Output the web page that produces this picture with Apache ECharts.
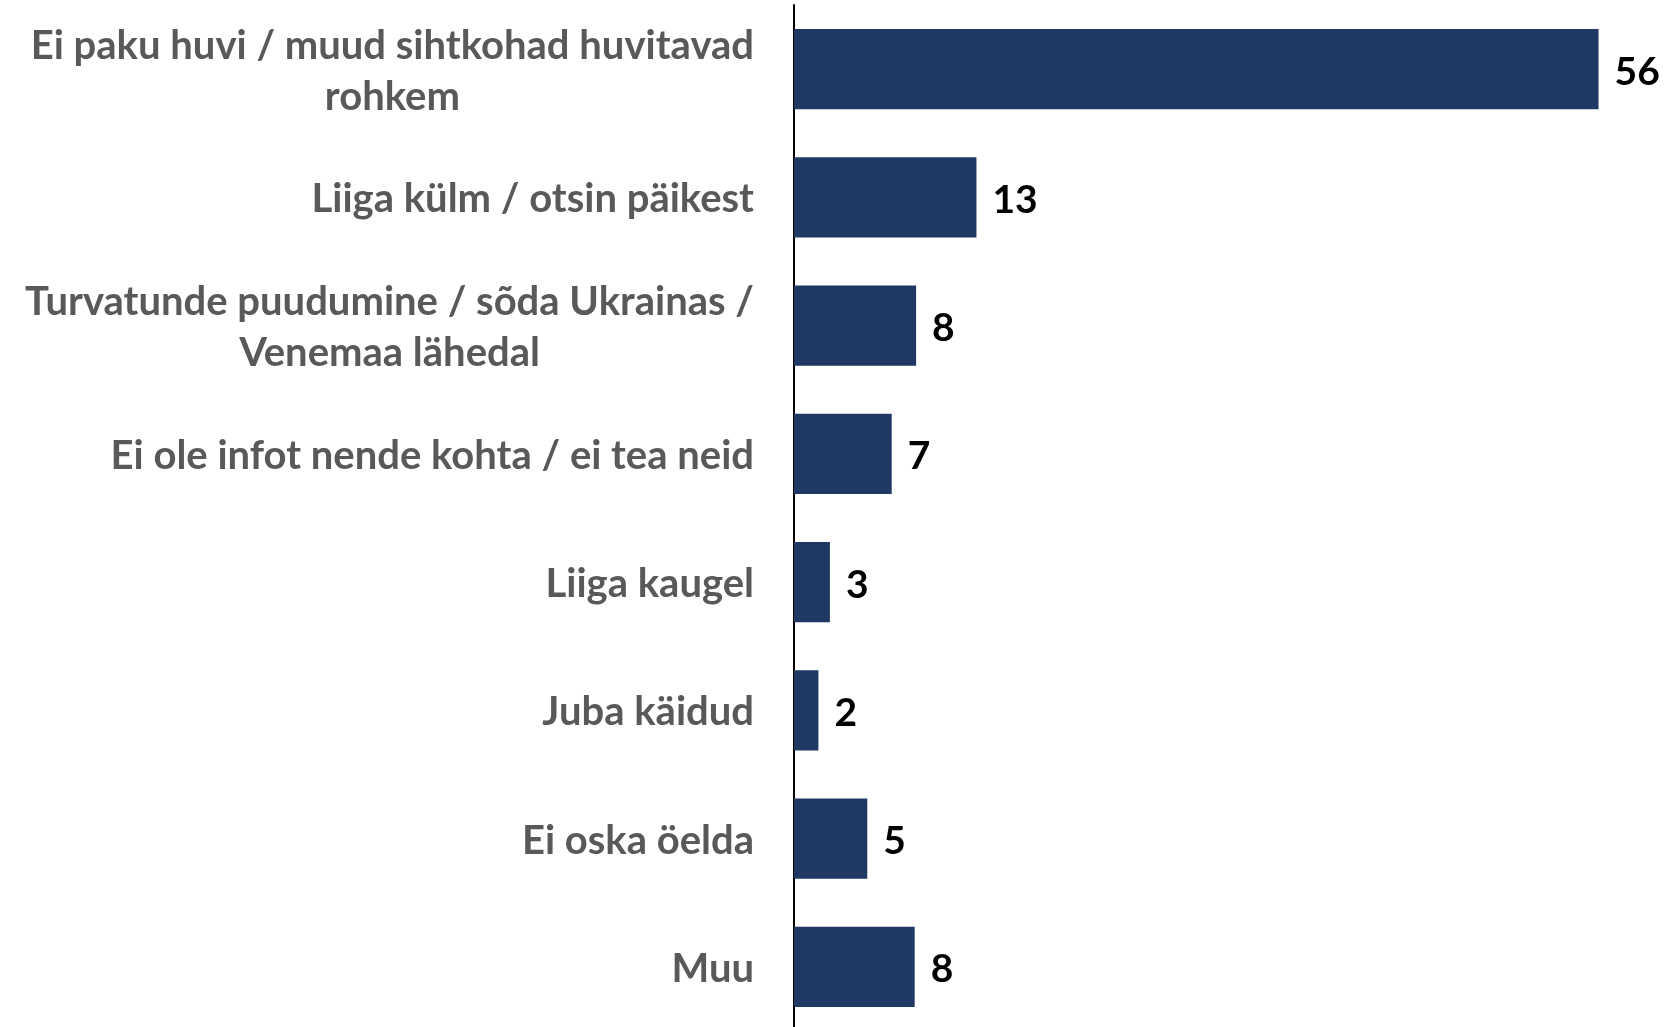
<!DOCTYPE html>
<html>
<head>
<meta charset="utf-8">
<script src="https://cdn.jsdelivr.net/npm/echarts@6/dist/echarts.min.js"></script>
<style>
html,body{margin:0;padding:0;background:#fff;overflow:hidden;}
#chart{width:1676px;height:1031px;}
</style>
</head>
<body>
<div id="chart"></div>
<script>
const categories = [
  "Ei paku huvi / muud sihtkohad huvitavad\nrohkem",
  "Liiga külm / otsin päikest",
  "Turvatunde puudumine / sõda Ukrainas /\nVenemaa lähedal",
  "Ei ole infot nende kohta / ei tea neid",
  "Liiga kaugel",
  "Juba käidud",
  "Ei oska öelda",
  "Muu"
];
// bar lengths (%)
const values = [56, 12.7, 8.5, 6.8, 2.5, 1.7, 5.1, 8.4];
// printed value labels
const valueLabels = [56, 13, 8, 7, 3, 2, 5, 8];

const chart = echarts.init(document.getElementById('chart'), null, {renderer: 'canvas'});
chart.setOption({
  animation: false,
  backgroundColor: '#ffffff',
  grid: {left: 794, top: 5, width: 862, bottom: 0, containLabel: false},
  xAxis: {
    type: 'value', min: 0, max: 60, show: false
  },
  yAxis: {
    type: 'category',
    inverse: true,
    data: categories,
    axisLine: {show: true, lineStyle: {color: '#000000', width: 2}},
    axisTick: {show: false},
    splitLine: {show: false},
    axisLabel: {
      margin: 40,
      align: 'right',
      padding: [4, 0, 0, 0],
      formatter: function (v) {
        return v.split('\n').map(function (l) { return '{c|' + l + '}'; }).join('\n');
      },
      rich: {
        c: {
          align: 'center',
          fontFamily: 'Lato',
          fontWeight: 'bold',
          fontSize: 40,
          lineHeight: 51,
          color: '#595959'
        }
      }
    }
  },
  series: [{
    type: 'bar',
    data: values,
    barCategoryGap: '37.6%',
    itemStyle: {color: '#203864'},
    label: {
      show: true,
      position: 'right',
      distance: 16,
      offset: [0, 3],
      fontFamily: 'Lato',
      fontWeight: 'bold',
      fontSize: 39,
      color: '#000000',
      formatter: function (p) { return String(valueLabels[p.dataIndex]); }
    }
  }]
});
</script>
</body>
</html>
